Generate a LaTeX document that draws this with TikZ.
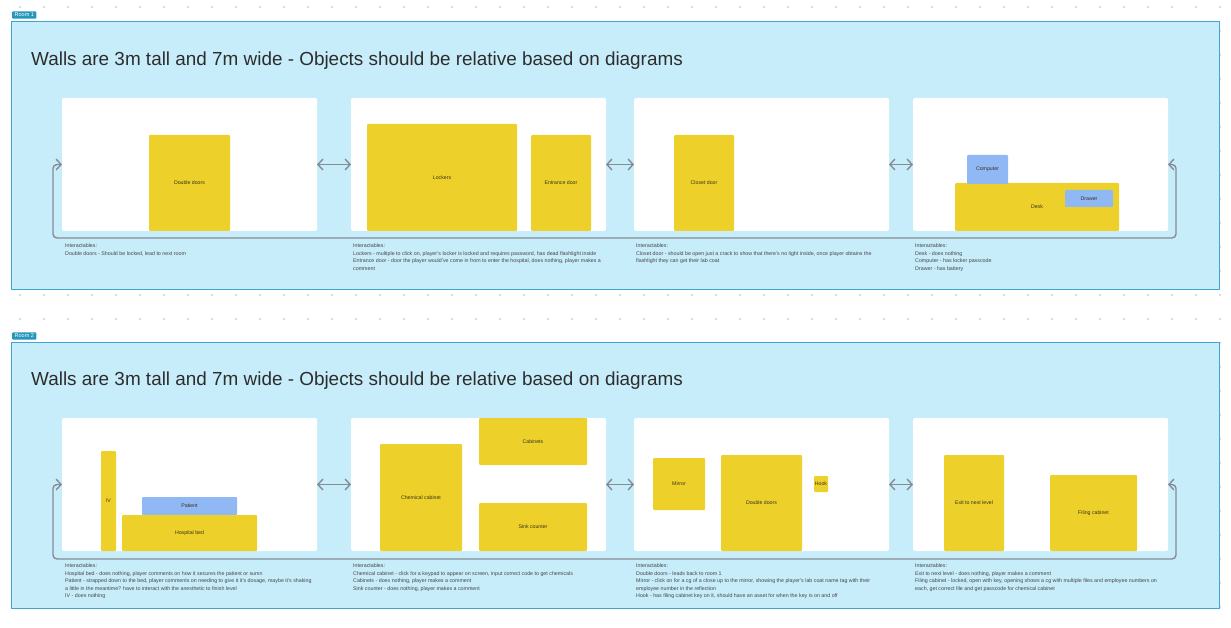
\documentclass[tikz,border=0pt]{standalone}
\usepackage{fontspec}
\setmainfont{Liberation Sans}
\usetikzlibrary{arrows.meta}
\definecolor{framefill}{RGB}{199,236,250}
\definecolor{frameline}{RGB}{62,166,206}
\definecolor{tagteal}{RGB}{38,150,188}
\definecolor{ryellow}{RGB}{237,209,42}
\definecolor{rblue}{RGB}{143,184,245}
\definecolor{linkgray}{RGB}{132,140,150}
\definecolor{dotgray}{RGB}{205,207,212}
\definecolor{titlegray}{RGB}{45,45,45}
\definecolor{notegray}{RGB}{70,70,70}
\definecolor{objtext}{RGB}{55,50,30}

\begin{document}
\begin{tikzpicture}[x=1pt, y=-1pt, line join=round, >={Straight Barb[length=5pt,width=11pt]},
  panel/.style={fill=white, rounded corners=1.5pt, inner sep=0pt, outer sep=0pt, minimum width=255pt, minimum height=133pt},
  obj/.style={fill=ryellow, rounded corners=1pt, inner sep=0pt, outer sep=0pt, text=objtext, font=\fontsize{5.2}{6}\selectfont},
  objblue/.style={obj, fill=rblue},
  sz/.style 2 args={minimum width=#1pt, minimum height=#2pt},
  link/.style={draw=linkgray, line width=1.4pt, <->},
  note/.style={anchor=north west, align=left, inner sep=0pt, text=notegray, font=\fontsize{5.3}{7.5}\selectfont},
  title/.style={anchor=base west, inner sep=0pt, text=titlegray, font=\fontsize{18.9}{22}\selectfont},
  tag/.style={anchor=west, fill=tagteal, text=white, rounded corners=1pt, inner xsep=2.5pt, inner ysep=1.8pt, font=\fontsize{5.5}{5.5}\selectfont}]
  \useasboundingbox (0,0) rectangle (1231,628);
  \foreach \x in {20,44,...,1220}
    \foreach \y in {7,31,...,631}
      \fill[dotgray] (\x,\y) circle (1.2pt);

  % room 1
  \draw[fill=framefill, draw=frameline, line width=0.9pt] (11,21) rectangle (1219,289);
  \node[tag] (tag1) at (12,15) {Room 1};
  \node[title] (title1) at (31,65.5) {Walls are 3m tall and 7m wide - Objects should be relative based on diagrams};
  \node[panel] (r1a) at (189.5,164.5) {};
  \node[panel] (r1b) at (478.5,164.5) {};
  \node[panel] (r1c) at (761.5,164.5) {};
  \node[panel] (r1d) at (1040.5,164.5) {};
  \node[obj, sz={81}{96}] (doors1) at (189.5,183) {Double doors};
  \node[obj, sz={150}{107}] (lockers) at (442,177.5) {Lockers};
  \node[obj, sz={60}{96}] (entrance) at (561,183) {Entrance door};
  \node[obj, sz={60}{96}] (closet) at (704,183) {Closet door};
  \node[obj, sz={164}{48}] (desk) at (1037,207) {Desk};
  \node[objblue, sz={41}{29}] (computer) at (987.5,169.5) {Computer};
  \node[objblue, sz={48}{17}] (drawer) at (1089,198.5) {Drawer};
  \draw[link] (r1a.east) -- (r1b.west);
  \draw[link] (r1b.east) -- (r1c.west);
  \draw[link] (r1c.east) -- (r1d.west);
  \coordinate (loop1) at (1176,238);
  \draw[link, rounded corners=4pt] (r1a.west) -- ++(-9,0) |- (loop1) |- (r1d.east);
  \node[note] (note1a) at (65,243.5) {Interactables:\\Double doors - Should be locked, lead to next room};
  \node[note] (note1b) at (353,243.5) {Interactables:\\Lockers - multiple to click on, player's locker is locked and requires password, has dead flashlight inside\\Entrance door - door the player would've come in from to enter the hospital, does nothing, player makes a\\comment};
  \node[note] (note1c) at (636,243.5) {Interactables:\\Closet door - should be open just a crack to show that there's no light inside, once player obtains the\\flashlight they can get their lab coat};
  \node[note] (note1d) at (915,243.5) {Interactables:\\Desk - does nothing\\Computer - has locker passcode\\Drawer - has battery};

  % room 2
  \draw[fill=framefill, draw=frameline, line width=0.9pt] (11,342) rectangle (1219,608);
  \node[tag] (tag2) at (12,336) {Room 2};
  \node[title] (title2) at (31,385.5) {Walls are 3m tall and 7m wide - Objects should be relative based on diagrams};
  \node[panel] (r2a) at (189.5,484.5) {};
  \node[panel] (r2b) at (478.5,484.5) {};
  \node[panel] (r2c) at (761.5,484.5) {};
  \node[panel] (r2d) at (1040.5,484.5) {};
  \node[obj, sz={15}{100}] (iv) at (108.5,501) {IV};
  \node[objblue, sz={95}{18}] (patient) at (189.5,506) {Patient};
  \node[obj, sz={135}{36}] (bed) at (189.5,533) {Hospital bed};
  \node[obj, sz={82}{107}] (chemical) at (421,497.5) {Chemical cabinet};
  \node[obj, sz={108}{47}] (cabinets) at (533,441.5) {Cabinets};
  \node[obj, sz={108}{48}] (sink) at (533,527) {Sink counter};
  \node[obj, sz={52}{52}] (mirror) at (679,484) {Mirror};
  \node[obj, sz={81}{96}] (doors2) at (761.5,503) {Double doors};
  \node[obj, sz={14}{16}] (hook) at (821,484) {Hook};
  \node[obj, sz={60}{96}] (exit) at (974,503) {Exit to next level};
  \node[obj, sz={87}{76}] (filing) at (1093.5,513) {Filing cabinet};
  \draw[link] (r2a.east) -- (r2b.west);
  \draw[link] (r2b.east) -- (r2c.west);
  \draw[link] (r2c.east) -- (r2d.west);
  \coordinate (loop2) at (1176,559);
  \draw[link, rounded corners=4pt] (r2a.west) -- ++(-9,0) |- (loop2) |- (r2d.east);
  \node[note] (note2a) at (65,563.5) {Interactables:\\Hospital bed - does nothing, player comments on how it secures the patient or sumn\\Patient - strapped down to the bed, player comments on needing to give it it's dosage, maybe it's shaking\\a little in the meantime? have to interact with the anesthetic to finish level\\IV - does nothing};
  \node[note] (note2b) at (353,563.5) {Interactables:\\Chemical cabinet - click for a keypad to appear on screen, input correct code to get chemicals\\Cabinets - does nothing, player makes a comment\\Sink counter - does nothing, player makes a comment};
  \node[note] (note2c) at (636,563.5) {Interactables:\\Double doors - leads back to room 1\\Mirror - click on for a cg of a close up to the mirror, showing the player's lab coat name tag with their\\employee number in the reflection\\Hook - has filing cabinet key on it, should have an asset for when the key is on and off};
  \node[note] (note2d) at (915,563.5) {Interactables:\\Exit to next level - does nothing, player makes a comment\\Filing cabinet - locked, open with key, opening shows a cg with multiple files and employee numbers on\\each, get correct file and get passcode for chemical cabinet};
\end{tikzpicture}
\end{document}
